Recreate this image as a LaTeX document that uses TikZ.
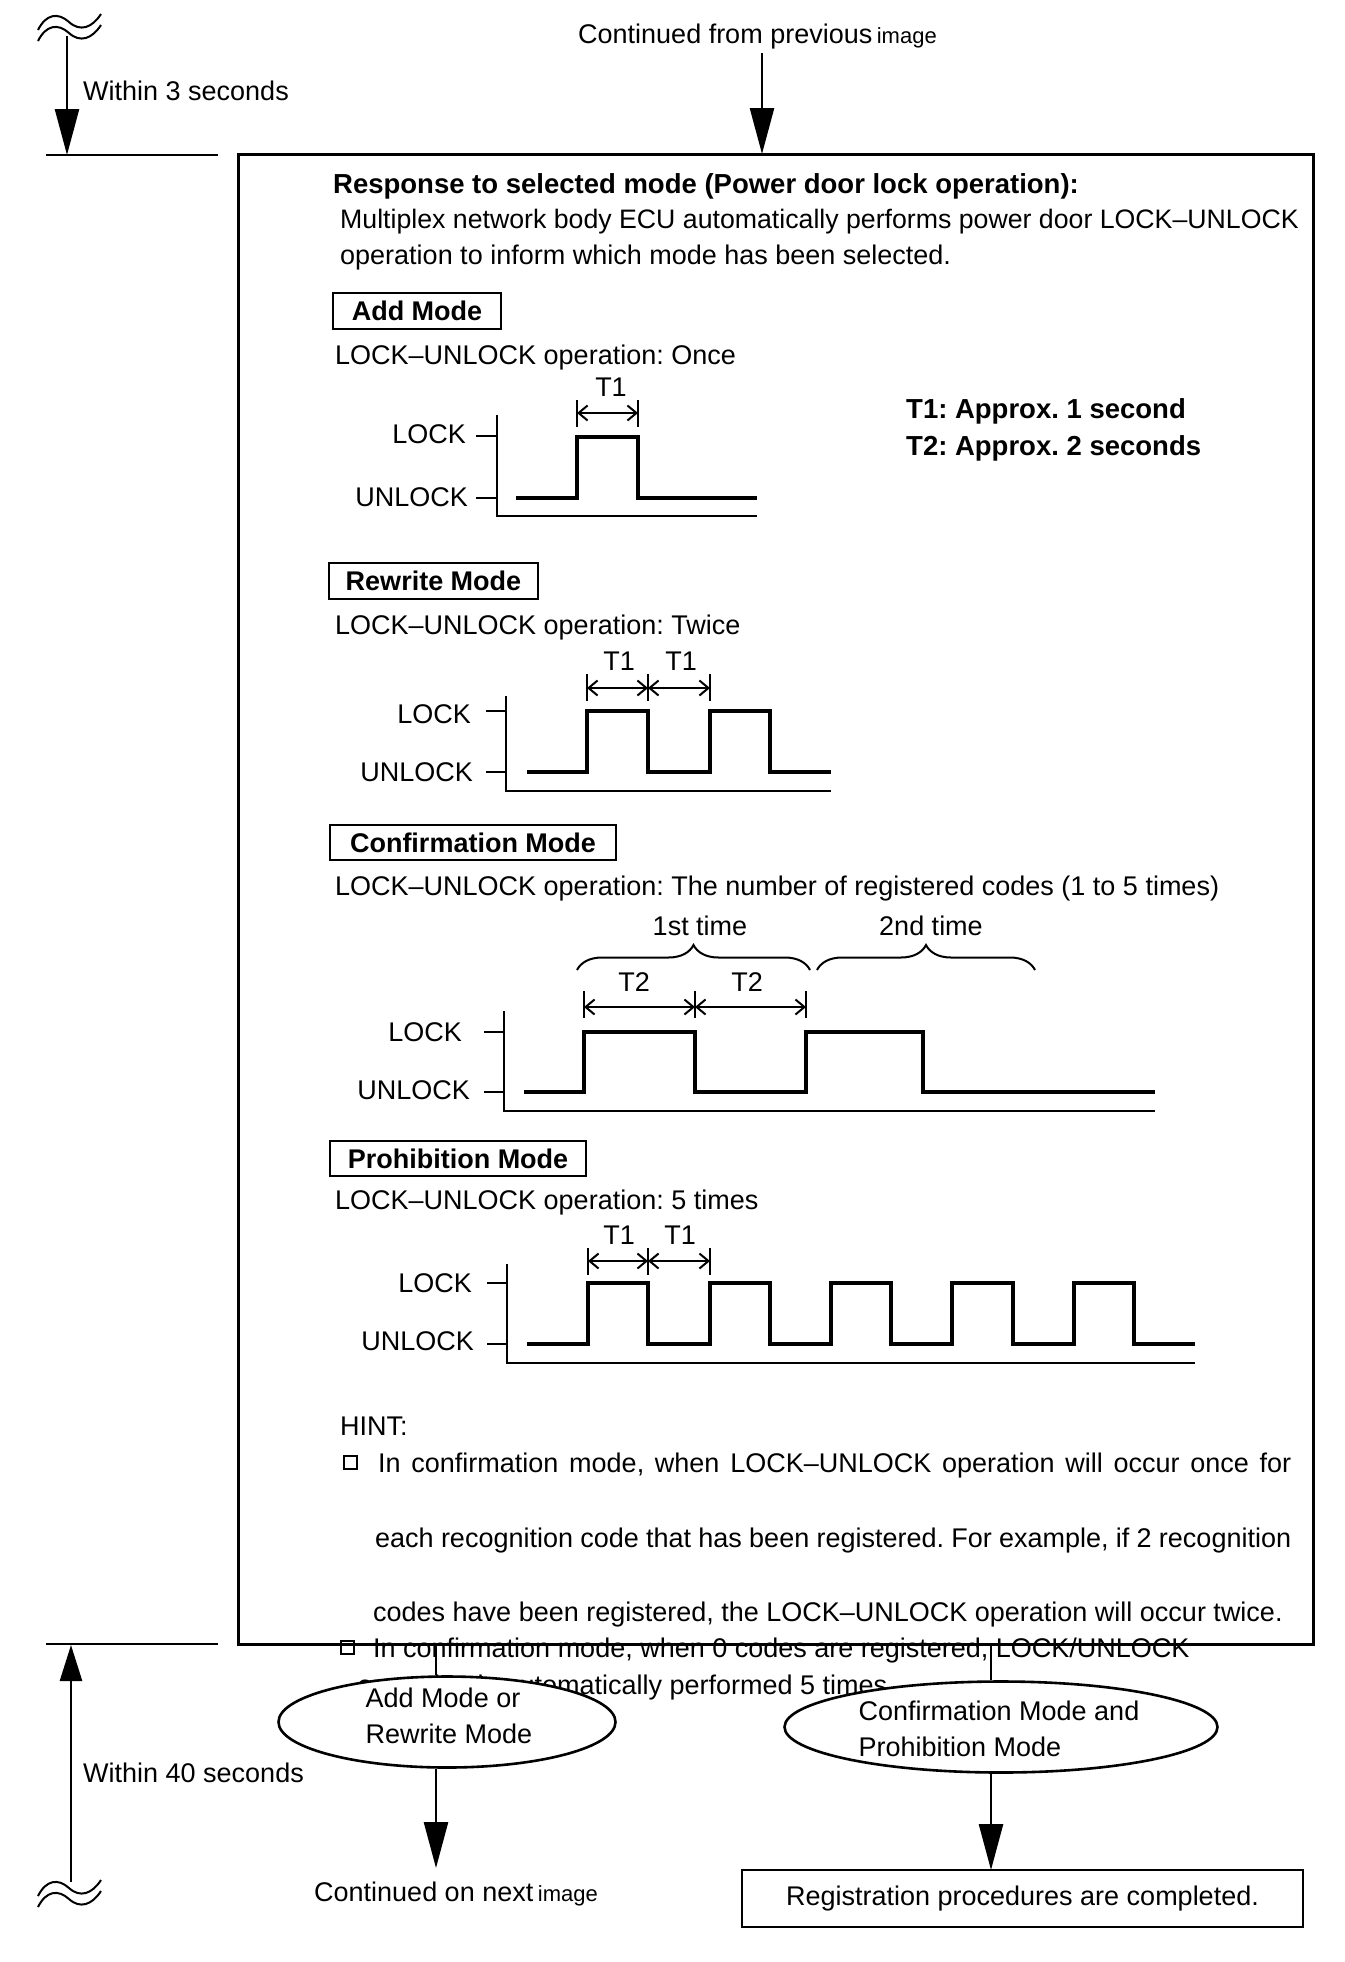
\documentclass[tikz,border=0pt]{standalone}
\usepackage{fontspec}
\setmainfont{Liberation Sans}
\usetikzlibrary{arrows.meta,shapes.geometric,decorations.pathreplacing}
\begin{document}
\frenchspacing
\begin{tikzpicture}[x=1pt,y=-1pt,
  txt/.style={font=\fontsize{27}{33}\selectfont, inner sep=0pt},
  lbl/.style={txt, anchor=base west},
  modebox/.style={draw, line width=2.5pt, inner sep=0pt, font=\fontsize{27}{33}\selectfont\bfseries},
  sig/.style={line width=3.2pt, line join=miter},
  axis/.style={line width=2.4pt},
  dim/.style={line width=2pt, {Straight Barb[length=9pt,width=15pt]}-{Straight Barb[length=9pt,width=15pt]}},
  tick/.style={line width=2pt},
  bigarrow/.style={line width=2.6pt, -{Triangle[length=46pt,width=24pt]}},
  wavy/.style={line width=2pt}
]
\useasboundingbox[fill=white] (0,0) rectangle (1344,1962);

% ---------- top ----------
\draw[wavy] (38,30) .. controls (46,14) and (58,12) .. (69,22) .. controls (80,32) and (92,28) .. (101,14);
\draw[wavy] (38,41) .. controls (46,25) and (58,23) .. (69,33) .. controls (80,43) and (92,39) .. (101,25);
\coordinate (w1) at (67,36);
\coordinate (h1) at (67,155);
\draw[bigarrow] (w1) -- (h1);
\draw[line width=2.4pt] (46,155) -- (218,155);
\node[lbl] (within3) at (83,100) {Within 3 seconds};

\node[lbl] (cont1) at (578,43) {Continued from previous\,{\fontsize{22}{26}\selectfont image}};
\coordinate (c1) at (762,53);

% main box
\draw[line width=3pt] (238,154) rectangle (1313,1644);
\coordinate (boxtop) at (762,154);
\draw[bigarrow] (c1) -- (boxtop);

\node[lbl, font=\fontsize{27.5}{33}\selectfont\bfseries] (resp) at (333,193) {Response to selected mode (Power door lock operation):};
\node[lbl, font=\fontsize{26.7}{33}\selectfont] (multi1) at (340,228) {Multiplex network body ECU automatically performs power door LOCK--UNLOCK};
\node[lbl] (multi2) at (340,264) {operation to inform which mode has been selected.};

% ---------- Add mode ----------
\node[modebox, minimum width=168pt, minimum height=36pt] (addbox) at (417,311) {Add Mode};
\node[lbl] (addop) at (335,364) {LOCK--UNLOCK operation: Once};
\node[txt] (t1a) at (611,387) {T1};
\draw[tick] (577,400) -- (577,427);
\draw[tick] (638,400) -- (638,427);
\draw[dim] (577,413) -- (638,413);
\node[txt, anchor=east] (lockA) at (466,434) {LOCK};
\node[txt, anchor=east] (unlockA) at (468,497) {UNLOCK};
\draw[tick] (476,436) -- (497,436);
\draw[tick] (476,498) -- (497,498);
\draw[axis] (497,415) -- (497,516) -- (757,516);
\draw[sig] (516,498) -- (577,498) -- (577,437) -- (638,437) -- (638,498) -- (757,498);
\node[lbl, font=\fontsize{27.5}{33}\selectfont\bfseries] (t1def) at (906,418) {T1: Approx. 1 second};
\node[lbl, font=\fontsize{27.5}{33}\selectfont\bfseries] (t2def) at (906,455) {T2: Approx. 2 seconds};

% ---------- Rewrite mode ----------
\node[modebox, minimum width=209pt, minimum height=36pt] (rewbox) at (433.5,581) {Rewrite Mode};
\node[lbl] (rewop) at (335,634) {LOCK--UNLOCK operation: Twice};
\node[txt] (t1b) at (619,661) {T1};
\node[txt] (t1c) at (681,661) {T1};
\draw[tick] (587,674) -- (587,701);
\draw[tick] (648,674) -- (648,701);
\draw[tick] (710,674) -- (710,701);
\draw[dim] (587,688) -- (648,688);
\draw[dim] (648,688) -- (710,688);
\node[txt, anchor=east] (lockB) at (471,714) {LOCK};
\node[txt, anchor=east] (unlockB) at (473,772) {UNLOCK};
\draw[tick] (486,711) -- (506,711);
\draw[tick] (486,772) -- (506,772);
\draw[axis] (506,696) -- (506,791) -- (831,791);
\draw[sig] (527,772) -- (587,772) -- (587,711) -- (648,711) -- (648,772) -- (710,772) -- (710,711) -- (770,711) -- (770,772) -- (831,772);

% ---------- Confirmation mode ----------
\node[modebox, minimum width=286pt, minimum height=35pt] (confbox) at (473,842.5) {Confirmation Mode};
\node[lbl] (confop) at (335,895) {LOCK--UNLOCK operation: The number of registered codes (1 to 5 times)};
\node[txt] (first) at (700,926) {1st time};
\node[txt] (second) at (931,926) {2nd time};
\draw[line width=2pt, decorate, decoration={brace, amplitude=25pt}] (577,970) -- (810,970);
\draw[line width=2pt, decorate, decoration={brace, amplitude=25pt}] (817,970) -- (1035,970);
\node[txt] (t2a) at (634,982) {T2};
\node[txt] (t2b) at (747,982) {T2};
\draw[tick] (584,991) -- (584,1018);
\draw[tick] (695,991) -- (695,1018);
\draw[tick] (806,991) -- (806,1018);
\draw[dim] (584,1007) -- (695,1007);
\draw[dim] (695,1007) -- (806,1007);
\node[txt, anchor=east] (lockC) at (462,1032) {LOCK};
\node[txt, anchor=east] (unlockC) at (470,1090) {UNLOCK};
\draw[tick] (484,1032) -- (504,1032);
\draw[tick] (484,1092) -- (504,1092);
\draw[axis] (504,1011) -- (504,1111) -- (1155,1111);
\draw[sig] (524,1092) -- (584,1092) -- (584,1032) -- (695,1032) -- (695,1092) -- (806,1092) -- (806,1032) -- (923,1032) -- (923,1092) -- (1155,1092);

% ---------- Prohibition mode ----------
\node[modebox, minimum width=256pt, minimum height=35pt] (prohbox) at (458,1158.5) {Prohibition Mode};
\node[lbl] (prohop) at (335,1209) {LOCK--UNLOCK operation: 5 times};
\node[txt] (t1d) at (619,1235) {T1};
\node[txt] (t1e) at (680,1235) {T1};
\draw[tick] (588,1248) -- (588,1275);
\draw[tick] (648,1248) -- (648,1275);
\draw[tick] (710,1248) -- (710,1275);
\draw[dim] (588,1261) -- (648,1261);
\draw[dim] (648,1261) -- (710,1261);
\node[txt, anchor=east] (lockD) at (472,1283) {LOCK};
\node[txt, anchor=east] (unlockD) at (474,1341) {UNLOCK};
\draw[tick] (487,1283) -- (507,1283);
\draw[tick] (487,1344) -- (507,1344);
\draw[axis] (507,1264) -- (507,1363) -- (1195,1363);
\draw[sig] (527,1344) -- (588,1344) -- (588,1283) -- (648,1283) -- (648,1344)
  -- (710,1344) -- (710,1283) -- (770,1283) -- (770,1344)
  -- (831,1344) -- (831,1283) -- (891,1283) -- (891,1344)
  -- (952,1344) -- (952,1283) -- (1013,1283) -- (1013,1344)
  -- (1074,1344) -- (1074,1283) -- (1134,1283) -- (1134,1344) -- (1195,1344);

% ---------- HINT ----------
\node[lbl] (hint) at (340,1435) {HINT:};
\draw[line width=1.5pt] (344,1456) rectangle (357,1469);
\node[lbl] (h1) at (378,1472) {\makebox[913pt][s]{In confirmation mode, when LOCK--UNLOCK operation will occur once for}};
\node[lbl] (h2) at (375,1547) {\makebox[916pt][s]{each recognition code that has been registered. For example, if 2 recognition}};
\node[lbl] (h3) at (373,1621) {codes have been registered, the LOCK--UNLOCK operation will occur twice.};
\draw[line width=1.5pt] (341,1641) rectangle (354,1654);
\node[lbl] (h4) at (373,1657) {In confirmation mode, when 0 codes are registered, LOCK/UNLOCK};
\node[txt, anchor=base east] (h5) at (895,1694) {operation is automatically performed 5 times.};
% redraw box bottom over text
\draw[line width=3pt] (238,1644) -- (1313,1644);

% ---------- bottom ----------
\draw[line width=2.4pt] (46,1644) -- (218,1644);
\coordinate (h2c) at (71,1645);
\coordinate (w2) at (71,1882);
\draw[line width=2.6pt, -{Triangle[length=36pt,width=22pt]}] (w2) -- (h2c);
\draw[wavy] (38,1896) .. controls (46,1880) and (58,1878) .. (69,1888) .. controls (80,1898) and (92,1894) .. (101,1880);
\draw[wavy] (38,1907) .. controls (46,1891) and (58,1889) .. (69,1899) .. controls (80,1909) and (92,1905) .. (101,1891);
\node[lbl] (within40) at (83,1782) {Within 40 seconds};

\node[ellipse, draw, line width=2.6pt, fill=white, minimum width=337pt, minimum height=91pt, inner sep=0pt] (e1) at (447,1722) {};
\node[txt, align=left] (e1t) at (449,1716) {Add Mode or\\[3pt]Rewrite Mode};
\node[ellipse, draw, line width=2.6pt, fill=white, minimum width=433pt, minimum height=91pt, inner sep=0pt] (e2) at (1001,1727) {};
\node[txt, align=left] (e2t) at (999,1729) {Confirmation Mode and\\[3pt]Prohibition Mode};

\draw[line width=2pt] (436,1644) -- (e1.north -| 436,1644);
\draw[line width=2pt] (991,1644) -- (e2.north -| 991,1644);

\node[lbl] (cont2) at (314,1901) {Continued on next\,{\fontsize{22}{26}\selectfont image}};
\coordinate (c2) at (436,1868);
\draw[bigarrow] (e1.south -| c2) -- (c2);

\node[draw, line width=2.6pt, minimum width=561pt, minimum height=57pt, txt] (done) at (1022.5,1898.5) {Registration procedures are completed.};
\coordinate (c3) at (991,1870);
\draw[bigarrow] (e2.south -| c3) -- (c3);
\end{tikzpicture}
\end{document}
